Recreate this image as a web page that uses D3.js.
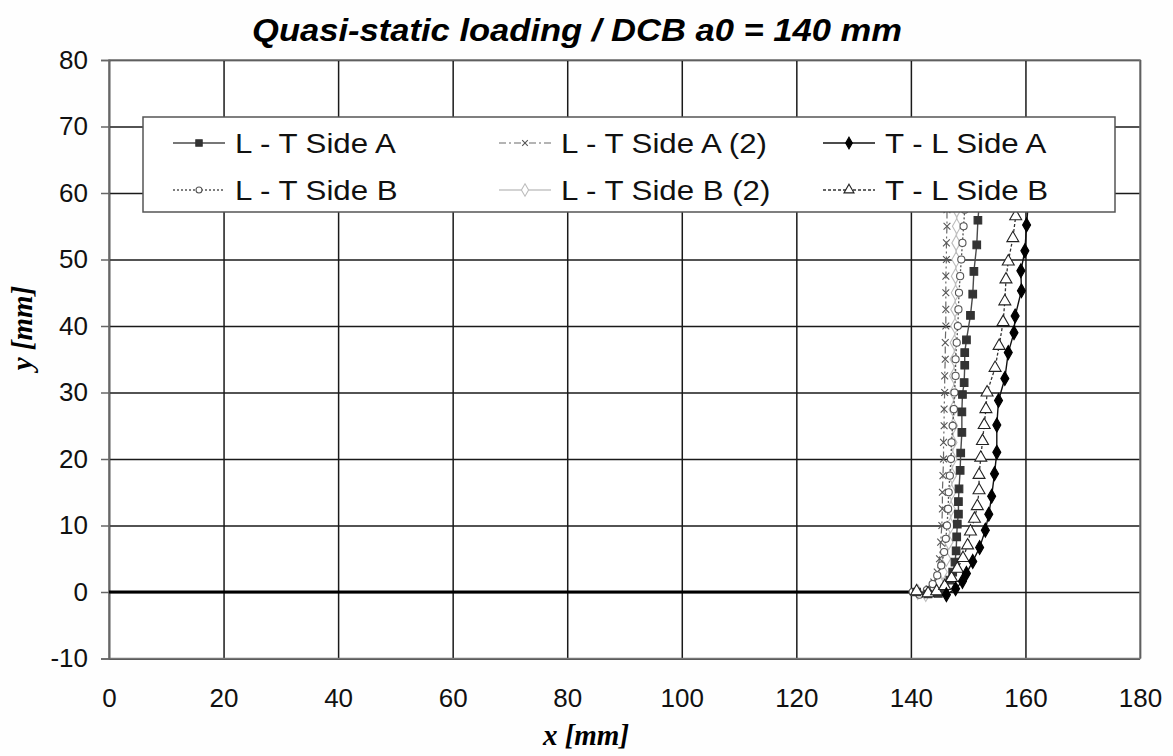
<!DOCTYPE html>
<html>
<head>
<meta charset="utf-8">
<script src="https://cdn.jsdelivr.net/npm/d3@7"></script>
<style>
  html, body { margin: 0; padding: 0; background: #fff; }
  svg { display: block; }
</style>
</head>
<body>
<svg id="chart" width="1173" height="756"></svg>
<script>
// ---------------- DATA ----------------
const chartTitle = "Quasi-static loading / DCB a0 = 140 mm";
const xTitle = "x [mm]";
const yTitle = "y [mm]";
const xTicks = [0, 20, 40, 60, 80, 100, 120, 140, 160, 180];
const yTicks = [-10, 0, 10, 20, 30, 40, 50, 60, 70, 80];

// initial crack along y = 0
const initialCrackX = [0, 140];
const initialCrackY = [0, 0];

// L - T Side A
const ltSideAX = [141.0, 143.0, 144.8, 145.9, 146.8, 147.3, 147.7, 147.9, 148.0, 148.1, 148.3, 148.3, 148.4, 148.6, 148.7, 148.9, 148.9, 149.0, 149.3, 149.4, 149.4, 149.7, 150.4, 150.8, 151.0, 151.5, 151.7, 152.0];
const ltSideAY = [0.0, -0.3, -0.2, 0.45, 1.8, 3.0, 4.5, 6.2, 8.3, 10.2, 11.7, 13.6, 15.5, 18.3, 20.9, 24.0, 27.1, 29.7, 31.5, 34.1, 36.0, 37.9, 41.6, 44.8, 48.2, 52.2, 55.9, 59.0];

// L - T Side A (2)
const ltSideA2X = [140.5, 142.0, 143.2, 144.0, 144.6, 145.0, 145.2, 145.4, 145.5, 145.5, 145.6, 145.7, 145.7, 145.8, 145.8, 145.9, 145.9, 146.0, 146.0, 146.1, 146.1, 146.1, 146.1, 146.2, 146.2, 146.3, 146.3];
const ltSideA2Y = [0, -0.3, 0.5, 1.5, 3, 5, 7.5, 10, 12.5, 15, 17.5, 20, 22.5, 25, 27.5, 30, 32.5, 35, 37.5, 40, 42.5, 45, 47.5, 50, 52.5, 55, 57.5];

// T - L Side A
const tlSideAX = [146.2, 147.8, 149.0, 149.7, 150.8, 152.0, 153.0, 153.6, 154.1, 154.6, 155.0, 155.0, 155.3, 156.4, 157.0, 158.0, 158.2, 159.3, 159.2, 159.9, 160.2, 160.5];
const tlSideAY = [-0.4, 0.5, 1.6, 2.8, 4.6, 6.7, 9.3, 11.7, 14.4, 17.8, 21.0, 25.1, 28.8, 32.1, 36.0, 39.0, 41.5, 45.3, 48.3, 51.3, 55.2, 58.5];

// L - T Side B
const ltSideBX = [140.3, 141.5, 142.8, 143.8, 144.6, 145.3, 145.8, 146.1, 146.3, 146.5, 146.6, 146.8, 147.0, 147.1, 147.3, 147.5, 147.6, 147.8, 147.8, 148.0, 148.2, 148.3, 148.4, 148.6, 148.8, 149.0, 149.2, 149.4];
const ltSideBY = [0, -0.4, 0.3, 1.2, 2.5, 4, 6, 8, 10, 12.5, 15, 17.5, 20, 22.5, 25, 27.5, 30, 32.5, 35, 37.5, 40, 42.5, 45, 47.5, 50, 52.5, 55, 57.5];

// L - T Side B (2)
const ltSideB2X = [141.2, 142.6, 143.9, 144.9, 145.6, 146.2, 146.6, 146.9, 147.0, 147.1, 147.2, 147.3, 147.3, 147.4, 147.4, 147.5, 147.5, 147.6, 147.6, 147.7, 147.7, 147.8, 147.8, 147.9, 147.9, 148.0, 148.0];
const ltSideB2Y = [0, -0.3, 0.4, 1.5, 3, 5, 7.5, 10, 12.5, 15, 17.5, 20, 22.5, 25, 27.5, 30, 32.5, 35, 37.5, 40, 42.5, 45, 47.5, 50, 52.5, 55, 57.5];

// T - L Side B
const tlSideBX = [141.0, 143.0, 144.5, 145.9, 147.1, 148.1, 149.1, 149.9, 150.4, 151.1, 151.6, 151.9, 151.9, 152.2, 152.5, 152.8, 153.1, 153.3, 154.7, 155.4, 156.1, 156.4, 156.6, 157.0, 157.8, 158.3];
const tlSideBY = [0.1, -0.2, 0.1, 0.9, 2.1, 3.5, 5.1, 7.0, 9.1, 11.0, 12.9, 15.3, 17.6, 20.2, 22.7, 25.1, 27.5, 30.0, 33.7, 37.0, 40.6, 43.7, 47.0, 49.7, 53.2, 56.5];

const seriesNames = ["L - T Side A", "L - T Side A (2)", "T - L Side A", "L - T Side B", "L - T Side B (2)", "T - L Side B"];

// ---------------- STYLES ----------------
const styles = {
  "L - T Side A":     {stroke: "#4a4a4a", width: 1.4, dash: null,        marker: "square",   mfill: "#333",  mstroke: "#333",   size: 58},
  "L - T Side A (2)": {stroke: "#6a6a6a", width: 1.2, dash: "7,3,2,3",   marker: "x",        mfill: "none",  mstroke: "#555",   size: 32},
  "T - L Side A":     {stroke: "#111",    width: 1.4, dash: null,        marker: "diamond",  mfill: "#000",  mstroke: "#000",   size: 56},
  "L - T Side B":     {stroke: "#555",    width: 1.3, dash: "2,2",       marker: "circle",   mfill: "#fff",  mstroke: "#555",   size: 40},
  "L - T Side B (2)": {stroke: "#c4c4c4", width: 1.5, dash: null,        marker: "diamond",  mfill: "#fff",  mstroke: "#bdbdbd",size: 64},
  "T - L Side B":     {stroke: "#333",    width: 1.3, dash: "3,2",       marker: "triangle", mfill: "#fff",  mstroke: "#222",   size: 62}
};

const seriesData = {
  "L - T Side A": d3.zip(ltSideAX, ltSideAY),
  "L - T Side A (2)": d3.zip(ltSideA2X, ltSideA2Y),
  "T - L Side A": d3.zip(tlSideAX, tlSideAY),
  "L - T Side B": d3.zip(ltSideBX, ltSideBY),
  "L - T Side B (2)": d3.zip(ltSideB2X, ltSideB2Y),
  "T - L Side B": d3.zip(tlSideBX, tlSideBY)
};

// ---------------- LAYOUT ----------------
const svg = d3.select("#chart");
const pLeft = 109, pRight = 1140, pTop = 60, pBottom = 658.5;
const x = d3.scaleLinear().domain([0, 180]).range([pLeft, pRight]);
const y = d3.scaleLinear().domain([-10, 80]).range([pBottom, pTop]);
const sans = "Liberation Sans, Arial, sans-serif";
const serif = "Liberation Serif, Times New Roman, serif";

svg.append("rect").attr("width", 1173).attr("height", 756).attr("fill", "#fefefe");
svg.append("rect").attr("x", pLeft).attr("y", pTop).attr("width", pRight - pLeft).attr("height", pBottom - pTop).attr("fill", "#fff");

// grid
const grid = svg.append("g");
grid.append("g").attr("transform", `translate(0,${pBottom})`)
  .call(d3.axisBottom(x).tickValues(xTicks).tickSize(-(pBottom - pTop)).tickFormat(""))
  .call(g => g.select(".domain").remove())
  .call(g => g.selectAll("line").attr("stroke", "#1a1a1a").attr("stroke-width", 1.5));
grid.append("g").attr("transform", `translate(${pLeft},0)`)
  .call(d3.axisLeft(y).tickValues(yTicks).tickSize(-(pRight - pLeft)).tickFormat(""))
  .call(g => g.select(".domain").remove())
  .call(g => g.selectAll("line").attr("stroke", "#1a1a1a").attr("stroke-width", 1.5));

// plot border
svg.append("rect").attr("x", pLeft).attr("y", pTop).attr("width", pRight - pLeft).attr("height", pBottom - pTop)
  .attr("fill", "none").attr("stroke", "#777").attr("stroke-width", 1.5);

// y axis with outer ticks and labels
svg.append("g").attr("transform", `translate(${pLeft},0)`)
  .call(d3.axisLeft(y).tickValues(yTicks).tickSize(8).tickPadding(13).tickFormat(d => String(d)))
  .call(g => g.select(".domain").attr("stroke", "#666").attr("stroke-width", 1.5))
  .call(g => g.selectAll("line").attr("stroke", "#666").attr("stroke-width", 1.5))
  .call(g => g.selectAll("text").attr("font-family", sans).attr("font-size", 26).attr("fill", "#111"));

// x axis labels
svg.append("g").attr("transform", `translate(0,${pBottom})`)
  .call(d3.axisBottom(x).tickValues(xTicks).tickSize(0).tickPadding(30).tickFormat(d => String(d)))
  .call(g => g.select(".domain").remove())
  .call(g => g.selectAll("text").attr("font-family", sans).attr("font-size", 26).attr("fill", "#111"));

// initial crack line
const line = d3.line().x(d => x(d[0])).y(d => y(d[1]));
svg.append("path").datum(d3.zip(initialCrackX, initialCrackY))
  .attr("d", line).attr("fill", "none").attr("stroke", "#000").attr("stroke-width", 3);

const symbolType = {square: d3.symbolSquare, diamond: d3.symbolDiamond, circle: d3.symbolCircle, triangle: d3.symbolTriangle, x: d3.symbolTimes};

function drawMarker(g, st, cx, cy, scale) {
  const s = (scale || 1);
  g.append("path")
    .attr("d", d3.symbol().type(symbolType[st.marker]).size(st.size * s)())
    .attr("transform", `translate(${cx},${cy})`)
    .attr("fill", st.mfill)
    .attr("stroke", st.mstroke)
    .attr("stroke-width", 1.1);
}

// series
const order = ["L - T Side B (2)", "L - T Side A (2)", "L - T Side B", "L - T Side A", "T - L Side B", "T - L Side A"];
order.forEach(name => {
  const st = styles[name];
  const g = svg.append("g");
  g.append("path").datum(seriesData[name])
    .attr("d", line).attr("fill", "none")
    .attr("stroke", st.stroke).attr("stroke-width", st.width)
    .attr("stroke-dasharray", st.dash);
  seriesData[name].forEach(d => drawMarker(g, st, x(d[0]), y(d[1])));
});

// legend
const lg = svg.append("g");
lg.append("rect").attr("x", 143).attr("y", 117).attr("width", 972).attr("height", 95)
  .attr("fill", "#fff").attr("stroke", "#555").attr("stroke-width", 1.5);
const colX = [173, 499, 823];
const rowY = [143, 190];
seriesNames.forEach((name, i) => {
  const st = styles[name];
  const cx = colX[i % 3], cy = rowY[Math.floor(i / 3)];
  lg.append("line").attr("x1", cx).attr("x2", cx + 52).attr("y1", cy).attr("y2", cy)
    .attr("stroke", st.stroke).attr("stroke-width", st.width).attr("stroke-dasharray", st.dash);
  drawMarker(lg, st, cx + 26, cy, 0.7);
  const t = lg.append("text").attr("x", cx + 62).attr("y", cy).attr("dy", "0.36em")
    .attr("font-family", sans).attr("font-size", 28).attr("fill", "#111")
    .text(name);
  const w = t.node().getComputedTextLength();
  t.attr("textLength", w * 1.115).attr("lengthAdjust", "spacingAndGlyphs");
});

// titles
const tt = svg.append("text").attr("x", 577).attr("y", 41).attr("text-anchor", "middle")
  .attr("font-family", sans).attr("font-size", 31)
  .attr("font-weight", "bold").attr("font-style", "italic").attr("fill", "#000")
  .text(chartTitle);
tt.attr("textLength", 650).attr("lengthAdjust", "spacingAndGlyphs");
svg.append("text").attr("x", 586).attr("y", 745).attr("text-anchor", "middle")
  .attr("font-family", serif).attr("font-size", 29)
  .attr("font-weight", "bold").attr("font-style", "italic").attr("fill", "#000")
  .text(xTitle);
svg.append("text").attr("transform", "translate(32,328) rotate(-90)").attr("text-anchor", "middle")
  .attr("font-family", serif).attr("font-size", 29)
  .attr("font-weight", "bold").attr("font-style", "italic").attr("fill", "#000")
  .text(yTitle);
</script>
</body>
</html>
